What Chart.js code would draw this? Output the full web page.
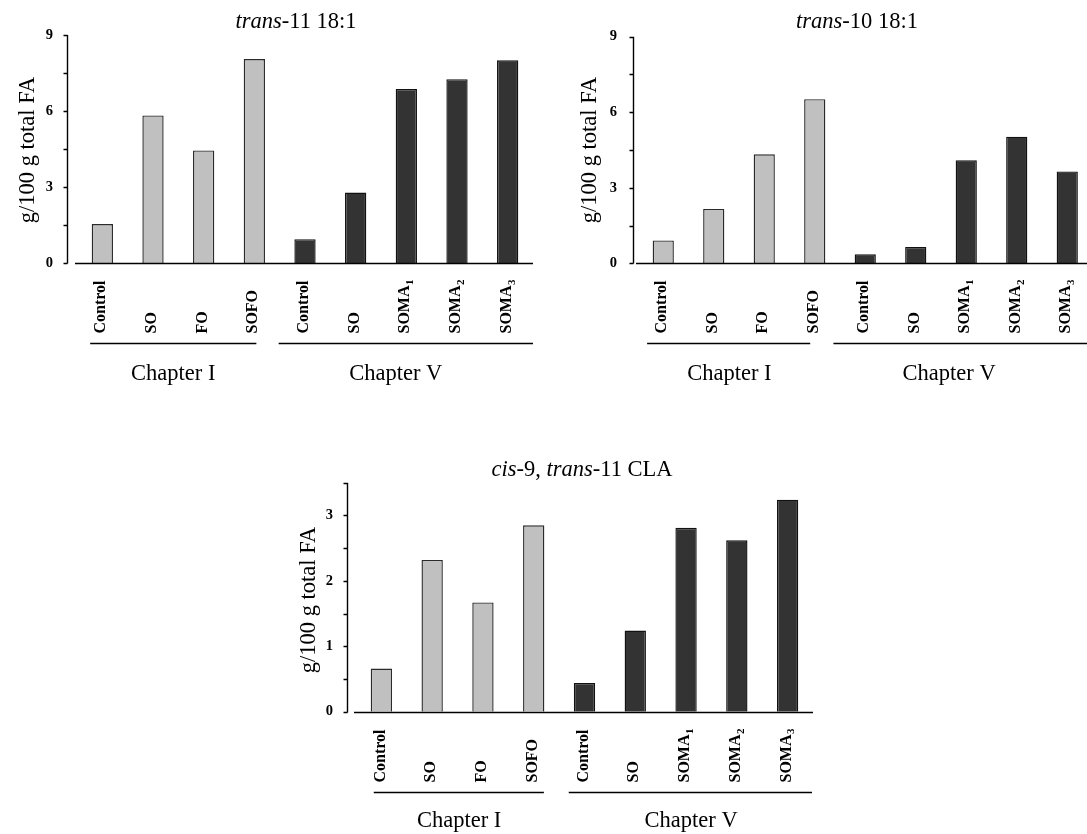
<!DOCTYPE html>
<html>
<head>
<meta charset="utf-8">
<script src="https://cdn.jsdelivr.net/npm/chart.js@4.4.1/dist/chart.umd.min.js"></script>
<style>
  html, body { margin: 0; padding: 0; background: #fff; }
  body { width: 1087px; height: 834px; position: relative; overflow: hidden; }
  canvas { position: absolute; }
</style>
</head>
<body>
<canvas id="c1" width="545" height="390" style="left:0px;top:0px"></canvas>
<canvas id="c2" width="540" height="390" style="left:560px;top:0px"></canvas>
<canvas id="c3" width="560" height="394" style="left:280px;top:440px"></canvas>
<script>
// ---------- data ----------
const categories = ['Control', 'SO', 'FO', 'SOFO', 'Control', 'SO', 'SOMA₁', 'SOMA₂', 'SOMA₃'];
const chapterOf  = ['I', 'I', 'I', 'I', 'V', 'V', 'V', 'V', 'V'];
const groups     = ['Chapter I', 'Chapter V'];

const trans11 = [1.55, 5.83, 4.45, 8.05, 0.95, 2.79, 6.87, 7.26, 8.00];
const trans10 = [0.91, 2.16, 4.33, 6.52, 0.36, 0.65, 4.09, 5.03, 3.65];
const cla     = [0.66, 2.32, 1.67, 2.85, 0.44, 1.24, 2.81, 2.62, 3.24];

const ticks9  = [0, 3, 6, 9];
const ticks35 = [0, 1, 2, 3];

const title1 = [['trans', true], ['-11 18:1', false]];
const title2 = [['trans', true], ['-10 18:1', false]];
const title3 = [['cis', true], ['-9, ', false], ['trans', true], ['-11 CLA', false]];
const yTitle = 'g/100 g total FA';

// ---------- styling ----------
const SERIF = '"Liberation Serif", "Times New Roman", serif';
const BIG = '22.5px ';
const LIGHT = '#c0c0c0', DARK = '#333333';
const barColors = chapterOf.map(c => c === 'I' ? LIGHT : DARK);
const barBorders = chapterOf.map(c => c === 'I' ? '#2a2a2a' : '#111111');
const SUB = { '₁': '1', '₂': '2', '₃': '3' };

const deco = {
  id: 'deco',
  afterDraw(chart, args, o) {
    const { ctx, chartArea: ca, scales: { x, y } } = chart;
    ctx.save();
    ctx.strokeStyle = '#000';
    ctx.fillStyle = '#000';
    ctx.lineWidth = 1.4;
    const ax = Math.round(ca.left - o.axisGap) + 0.5;
    const y0 = Math.round(y.getPixelForValue(0)) + 0.5;
    const yTop = y.getPixelForValue(o.yMax);
    // y axis
    ctx.beginPath();
    ctx.moveTo(ax, y0); ctx.lineTo(ax, yTop);
    for (let v = 0; v <= o.yMax + 1e-9; v += o.minorStep) {
      const py = Math.round(y.getPixelForValue(v)) + 0.5;
      ctx.moveTo(ax - 4, py); ctx.lineTo(ax, py);
    }
    ctx.stroke();
    // x axis
    ctx.beginPath();
    ctx.moveTo(ca.left - 2, y0); ctx.lineTo(ca.right, y0);
    ctx.stroke();
    // category labels (rotated, anchored at bottom)
    const labBottom = y0 + 70;
    categories.forEach((lab, i) => {
      const px = x.getPixelForValue(i) - 1;
      let main = lab, sub = '';
      const last = lab.slice(-1);
      if (SUB[last]) { main = lab.slice(0, -1); sub = SUB[last]; }
      ctx.save();
      ctx.translate(px, labBottom);
      ctx.rotate(-Math.PI / 2);
      ctx.textAlign = 'left';
      ctx.textBaseline = 'middle';
      ctx.font = 'bold 16px ' + SERIF;
      ctx.fillText(main, 0, 0);
      if (sub) {
        const w = ctx.measureText(main).width;
        ctx.font = 'bold 11px ' + SERIF;
        ctx.fillText(sub, w + 0.5, 5);
      }
      ctx.restore();
    });
    // group lines
    const gy = y0 + 80;
    ctx.lineWidth = 1.4;
    o.groupLines.forEach(([a, b]) => {
      ctx.beginPath();
      ctx.moveTo(x.getPixelForValue(a), gy);
      ctx.lineTo(x.getPixelForValue(b), gy);
      ctx.stroke();
    });
    ctx.font = BIG + SERIF;
    ctx.textAlign = 'center';
    ctx.textBaseline = 'alphabetic';
    groups.forEach((g, i) => {
      ctx.fillText(g, x.getPixelForValue(o.groupText[i]), gy + o.groupDy);
    });
    // title (mixed italic)
    const parts = o.title;
    let total = 0;
    parts.forEach(([t, it]) => { ctx.font = (it ? 'italic ' : '') + BIG + SERIF; total += ctx.measureText(t).width; });
    let tx = o.titleX - total / 2;
    ctx.textAlign = 'left';
    parts.forEach(([t, it]) => {
      ctx.font = (it ? 'italic ' : '') + BIG + SERIF;
      ctx.fillText(t, tx, o.titleY);
      tx += ctx.measureText(t).width;
    });
    // y title
    ctx.save();
    ctx.translate(o.yTitleX, o.yTitleY);
    ctx.rotate(-Math.PI / 2);
    ctx.textAlign = 'center';
    ctx.textBaseline = 'middle';
    ctx.font = BIG + SERIF;
    ctx.fillText(yTitle, 0, 0);
    ctx.restore();
    ctx.restore();
  }
};

function makeChart(id, values, cfg) {
  const canvas = document.getElementById(id);
  const W = canvas.width, H = canvas.height;
  return new Chart(canvas, {
    type: 'bar',
    data: {
      labels: categories,
      datasets: [{
        data: values,
        backgroundColor: barColors,
        borderColor: barBorders,
        borderWidth: 1.4,
        barPercentage: 0.42,
        categoryPercentage: 1.0
      }]
    },
    options: {
      responsive: false,
      animation: false,
      devicePixelRatio: 1,
      layout: { padding: { top: cfg.top, right: W - cfg.right, left: 0, bottom: 0 } },
      plugins: {
        legend: { display: false },
        tooltip: { enabled: false },
        title: { display: false },
        deco: cfg.deco
      },
      scales: {
        x: {
          grid: { display: false, drawTicks: false },
          border: { display: false },
          ticks: { display: false },
          afterFit: s => { s.height = H - cfg.bottom; }
        },
        y: {
          min: 0, max: cfg.yMax,
          grid: { display: false, drawTicks: false },
          border: { display: false },
          afterBuildTicks: s => { s.ticks = cfg.ticks.map(v => ({ value: v })); },
          afterFit: s => { s.width = cfg.left; },
          ticks: {
            padding: cfg.tickPad,
            color: '#000',
            font: { family: SERIF, size: 14.5, weight: 'bold' }
          }
        }
      }
    },
    plugins: [deco]
  });
}

makeChart('c1', trans11, {
  left: 77, right: 533, top: 35, bottom: 263.3, yMax: 9, ticks: ticks9, tickPad: 24,
  deco: { axisGap: 10.5, yMax: 9, minorStep: 1.5,
    groupLines: [[-0.24, 3.04], [3.48, 8.5]], groupText: [1.4, 5.79], groupDy: 36,
    title: title1, titleX: 296, titleY: 28, yTitleX: 28, yTitleY: 150 }
});
makeChart('c2', trans10, {
  left: 78, right: 532.5, top: 36.7, bottom: 263.3, yMax: 9, ticks: ticks9, tickPad: 21,
  deco: { axisGap: 5, yMax: 9, minorStep: 1.5,
    groupLines: [[-0.32, 2.91], [3.37, 9.2]], groupText: [1.31, 5.66], groupDy: 36,
    title: title2, titleX: 297, titleY: 28, yTitleX: 30, yTitleY: 150 }
});
makeChart('c3', cla, {
  left: 76, right: 533, top: 42.7, bottom: 271.7, yMax: 3.5, ticks: ticks35, tickPad: 23,
  deco: { axisGap: 9.3, yMax: 3.5, minorStep: 0.5,
    groupLines: [[-0.15, 3.2], [3.69, 8.48]], groupText: [1.53, 6.1], groupDy: 34,
    title: title3, titleX: 302, titleY: 36, yTitleX: 29, yTitleY: 160 }
});
</script>
</body>
</html>
